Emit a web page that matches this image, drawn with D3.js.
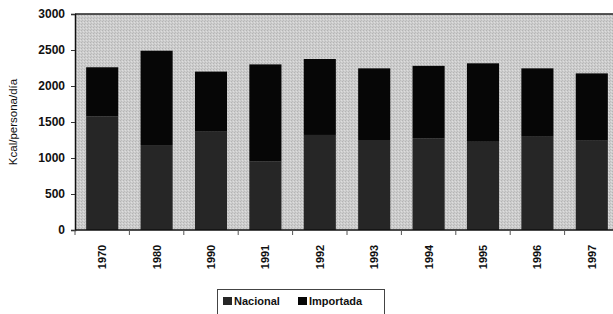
<!DOCTYPE html>
<html>
<head>
<meta charset="utf-8">
<script src="https://cdn.jsdelivr.net/npm/d3@7"></script>
<style>
  body { margin: 0; background: #fff; }
  svg text { font-family: "Liberation Sans", Arial, sans-serif; }
</style>
</head>
<body>
<svg id="chart" width="613" height="314"></svg>
<script>
// data
var years = ["1970", "1980", "1990", "1991", "1992", "1993", "1994", "1995", "1996", "1997"];
var nacional = [1580, 1180, 1365, 950, 1320, 1250, 1275, 1225, 1295, 1240];
var importada = [680, 1310, 835, 1350, 1055, 995, 1005, 1090, 950, 935];
var yTicks = [0, 500, 1000, 1500, 2000, 2500, 3000];
var seriesNames = ["Nacional", "Importada"];
var colors = { "Nacional": "#262626", "Importada": "#060606" };

var svg = d3.select("#chart");
var margin = { left: 75, top: 14, bottom: 230 };
var plotRight = 619;

var defs = svg.append("defs");
var pat = defs.append("pattern").attr("id", "stipple")
    .attr("width", 3).attr("height", 3).attr("patternUnits", "userSpaceOnUse");
pat.append("rect").attr("width", 3).attr("height", 3).attr("fill", "#cdcdcd");
pat.append("rect").attr("x", 0).attr("y", 0).attr("width", 1).attr("height", 1).attr("fill", "#b4b4b4");
pat.append("rect").attr("x", 2).attr("y", 1).attr("width", 1).attr("height", 1).attr("fill", "#dedede");
pat.append("rect").attr("x", 1).attr("y", 2).attr("width", 1).attr("height", 1).attr("fill", "#bcbcbc");

var x = d3.scaleBand().domain(years).range([margin.left, plotRight])
    .paddingInner(0.41).paddingOuter(0.205);
var y = d3.scaleLinear().domain([0, 3000]).range([margin.bottom, margin.top]);

// plot background
svg.append("rect")
    .attr("x", margin.left).attr("y", margin.top)
    .attr("width", plotRight - margin.left).attr("height", margin.bottom - margin.top)
    .attr("fill", "url(#stipple)");
svg.append("line")
    .attr("x1", margin.left).attr("x2", plotRight)
    .attr("y1", margin.top).attr("y2", margin.top)
    .attr("stroke", "#222").attr("stroke-width", 1.5);

// stacked bars
var rows = years.map(function(yr, i){ return { year: yr, Nacional: nacional[i], Importada: importada[i] }; });
var stack = d3.stack().keys(seriesNames)(rows);
svg.append("g").selectAll("g")
    .data(stack)
    .enter().append("g")
    .attr("fill", function(d){ return colors[d.key]; })
    .selectAll("rect")
    .data(function(d){ return d; })
    .enter().append("rect")
    .attr("x", function(d){ return x(d.data.year); })
    .attr("width", x.bandwidth())
    .attr("y", function(d){ return y(d[1]); })
    .attr("height", function(d){ return y(d[0]) - y(d[1]); });

// y axis
var yAxis = svg.append("g")
    .attr("transform", "translate(" + margin.left + ",0)")
    .call(d3.axisLeft(y).tickValues(yTicks).tickFormat(d3.format("d")).tickSize(4).tickPadding(6));
yAxis.select(".domain").attr("stroke", "#111").attr("stroke-width", 1.5);
yAxis.selectAll(".tick line").attr("stroke", "#333");
yAxis.selectAll(".tick text").attr("fill", "#111").attr("font-size", 12).attr("font-weight", "bold");

// x axis with ticks between categories
var xAxis = svg.append("g").attr("transform", "translate(0," + margin.bottom + ")");
xAxis.append("line").attr("x1", margin.left).attr("x2", plotRight)
    .attr("stroke", "#111").attr("stroke-width", 1.5);
var step = x.step();
xAxis.selectAll(".sep")
    .data(years)
    .enter().append("line")
    .attr("x1", function(d){ return x(d) - (step - x.bandwidth()) / 2; })
    .attr("x2", function(d){ return x(d) - (step - x.bandwidth()) / 2; })
    .attr("y1", 0).attr("y2", 5)
    .attr("stroke", "#555");
xAxis.selectAll(".lbl")
    .data(years)
    .enter().append("text")
    .attr("transform", function(d){ return "translate(" + (x(d) + x.bandwidth() / 2 + 4) + ",27) rotate(-90)"; })
    .attr("text-anchor", "middle")
    .attr("font-size", 11).attr("font-weight", "bold").attr("fill", "#111")
    .text(function(d){ return d; });

// y title
svg.append("text")
    .attr("transform", "translate(17,122) rotate(-90)")
    .attr("text-anchor", "middle")
    .attr("font-size", 11.5).attr("fill", "#111")
    .text("Kcal/persona/día");

// legend
var legend = svg.append("g");
legend.append("rect")
    .attr("x", 217.5).attr("y", 289.5).attr("width", 167).attr("height", 30)
    .attr("fill", "none").attr("stroke", "#444");
var items = [{ name: "Nacional", x: 223 }, { name: "Importada", x: 298 }];
items.forEach(function(it){
    legend.append("rect").attr("x", it.x).attr("y", 297).attr("width", 9).attr("height", 8)
        .attr("fill", colors[it.name]);
    legend.append("text").attr("x", it.x + 11).attr("y", 305)
        .attr("font-size", 11).attr("font-weight", "bold").attr("fill", "#111")
        .text(it.name);
});
</script>
</body>
</html>
